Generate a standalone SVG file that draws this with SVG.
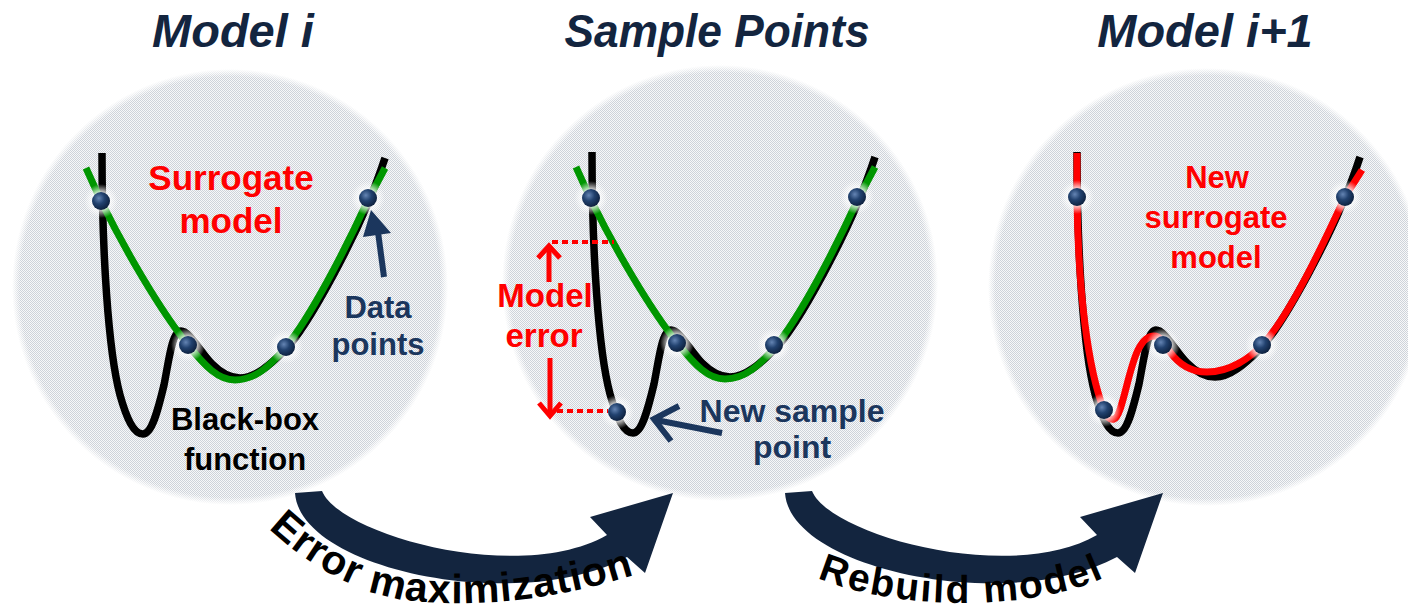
<svg xmlns="http://www.w3.org/2000/svg" width="1408" height="614" viewBox="0 0 1408 614">
  <style>
    .title{font-family:"Liberation Sans",Arial,sans-serif;font-weight:bold;font-style:italic;font-size:47px;fill:#13253f;text-anchor:middle}
    .lbl{font-family:"Liberation Sans",Arial,sans-serif;font-weight:bold;text-anchor:middle}
    .red{fill:#ff0000}
    .navy{fill:#1b365d}
    .blk{fill:#000}
    .disc{fill:url(#dots)}
    .fn{fill:none;stroke:#000;stroke-width:7.5;stroke-linejoin:round}
    .sur{fill:none;stroke:#009600;stroke-width:7;stroke-linejoin:round}
    .newsur{fill:none;stroke:#ff0000;stroke-width:7;stroke-linejoin:round}
    .guide{fill:none;stroke:#ff0000;stroke-width:4;stroke-dasharray:6 4}
    .rarrow{fill:none;stroke:#ff0000;stroke-width:5}
    .narrow{fill:none;stroke:#1b365d;stroke-width:6}
    .flow{fill:#13253f}
    .arcText{font-family:"Liberation Sans",Arial,sans-serif;font-weight:bold;fill:#000}
  </style>
  <defs>
    <!-- fine dotted fill of the discs -->
    <pattern id="dots" width="2" height="2" patternUnits="userSpaceOnUse">
      <rect width="2" height="2" fill="#f7f8f9"/>
      <rect width="1" height="1" fill="#ced3da"/>
      <rect x="1" y="1" width="1" height="1" fill="#ced3da"/>
    </pattern>
    <radialGradient id="fade">
      <stop offset="0.965" stop-color="#fff"/>
      <stop offset="1" stop-color="#fff" stop-opacity="0"/>
    </radialGradient>
    <mask id="soft" maskContentUnits="objectBoundingBox">
      <rect width="1" height="1" fill="url(#fade)"/>
    </mask>
    <!-- sample point: shaded ball with a pale glow -->
    <radialGradient id="halo">
      <stop offset="0.45" stop-color="#fff" stop-opacity="0.9"/>
      <stop offset="1" stop-color="#fff" stop-opacity="0"/>
    </radialGradient>
    <radialGradient id="ball" cx="0.38" cy="0.35" r="0.7">
      <stop offset="0" stop-color="#6484b3"/>
      <stop offset="0.45" stop-color="#22426f"/>
      <stop offset="1" stop-color="#0c1e3a"/>
    </radialGradient>
    <g id="pt">
      <circle r="17" fill="url(#halo)"/>
      <circle r="9" fill="url(#ball)"/>
    </g>
    <!-- black-box function and the first surrogate fit -->
    <path id="bbox" d="M102,153 C102,250 108,350 120,395 C127,420 134,434 143,434 C152,434 158,410 164,385 C169,360 172,331 181,331 C190,331 200,352 212,364 C222,374 230,378 240,378 C255,378 270,365 285,350 C305,330 360,235 385,158"/>
    <path id="fit" d="M86,168 L101,201 C125,250 160,310 188,345 C205,366 218,380 235,380 C255,380 270,366 285,348 C310,318 345,250 368,200 L385,168"/>
    <!-- curved block arrow between stages -->
    <path id="bend" d="M295,493 L322,491 C340,535 520,585 607,535 L590,517 L673,493 L645,573 L627,557 C520,615 300,570 295,493 Z"/>
    <path id="arcA" d="M262,522 C307,567 360,593 400,599 C480,611 570,596 640,573"/>
    <path id="arcB" d="M812,575 C880,609 1030,615 1110,575"/>
  </defs>

  <rect width="1408" height="614" fill="#fff"/>

  <!-- stage 1 -->
  <g id="model-i">
    <text class="title" x="233" y="47">Model i</text>
    <circle class="disc" cx="230" cy="287" r="218" mask="url(#soft)"/>
    <use href="#bbox" class="fn"/>
    <use href="#fit" class="sur"/>
    <use href="#pt" x="101" y="201"/>
    <use href="#pt" x="188" y="345"/>
    <use href="#pt" x="286" y="347"/>
    <use href="#pt" x="368" y="198"/>
    <text class="lbl red" font-size="35"><tspan x="231" y="190">Surrogate</tspan><tspan x="231" y="233">model</tspan></text>
    <line class="narrow" x1="384" y1="277" x2="378" y2="232"/>
    <polygon points="371,210 363,237 391,233" fill="#1b365d"/>
    <text class="lbl navy" font-size="31"><tspan x="378" y="318">Data</tspan><tspan x="378" y="355">points</tspan></text>
    <text class="lbl blk" font-size="31"><tspan x="245" y="430">Black-box</tspan><tspan x="245" y="470">function</tspan></text>
  </g>

  <!-- stage 2 -->
  <g id="sample-points">
    <text class="title" x="717" y="47" textLength="305" lengthAdjust="spacingAndGlyphs">Sample Points</text>
    <circle class="disc" cx="720" cy="283" r="218" mask="url(#soft)"/>
    <g transform="translate(490,-1)">
      <use href="#bbox" class="fn"/>
      <use href="#fit" class="sur"/>
      <use href="#pt" x="101" y="199"/>
      <use href="#pt" x="187" y="344"/>
      <use href="#pt" x="284" y="346"/>
      <use href="#pt" x="367" y="198"/>
    </g>
    <use href="#pt" x="617" y="412"/>
    <line class="guide" x1="552" y1="242" x2="614" y2="242"/>
    <line class="guide" x1="557" y1="411" x2="608" y2="411"/>
    <line class="rarrow" x1="549" y1="282" x2="549" y2="247"/>
    <polyline class="rarrow" points="538,258 549,246 560,258"/>
    <line class="rarrow" x1="550" y1="358" x2="550" y2="415"/>
    <polyline class="rarrow" points="539,403 550,416 561,403"/>
    <text class="lbl red" font-size="33"><tspan x="545" y="307">Model</tspan><tspan x="544" y="347">error</tspan></text>
    <line class="narrow" x1="722" y1="433" x2="656" y2="420"/>
    <polyline class="narrow" points="679,406 654,419 671,441"/>
    <text class="lbl navy" font-size="32"><tspan x="792" y="422">New sample</tspan><tspan x="792" y="458">point</tspan></text>
  </g>

  <!-- stage 3 -->
  <g id="model-i1">
    <text class="title" x="1205" y="47">Model i+1</text>
    <circle class="disc" cx="1207" cy="287" r="219" mask="url(#soft)"/>
    <use href="#bbox" class="fn" transform="translate(975,-1)"/>
    <path class="newsur" d="M1077,153 L1077,197 C1078,290 1088,370 1104,410 C1107,418 1110,420 1114,419 C1122,417 1128,370 1138,350 C1143,340 1148,336 1154,336 C1160,336 1164,342 1170,352 C1180,366 1192,372 1207,372 C1230,372 1250,358 1262,345 C1290,316 1325,240 1345,197 L1362,170"/>
    <use href="#pt" x="1077" y="197"/>
    <use href="#pt" x="1104" y="410"/>
    <use href="#pt" x="1163" y="345"/>
    <use href="#pt" x="1262" y="345"/>
    <use href="#pt" x="1345" y="197"/>
    <text class="lbl red" font-size="31"><tspan x="1217" y="188">New</tspan><tspan x="1216" y="228">surrogate</tspan><tspan x="1216" y="268">model</tspan></text>
  </g>

  <!-- flow between stages -->
  <g id="connectors">
    <use href="#bend" class="flow"/>
    <use href="#bend" class="flow" transform="translate(490,0)"/>
    <text class="arcText" font-size="41" letter-spacing="1"><textPath href="#arcA" startOffset="9">Error maximization</textPath></text>
    <text class="arcText" font-size="39" letter-spacing="2"><textPath href="#arcB" startOffset="6">Rebuild model</textPath></text>
  </g>
</svg>
